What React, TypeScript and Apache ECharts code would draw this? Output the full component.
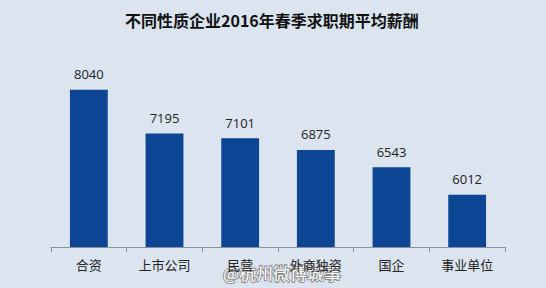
import React, { useEffect, useRef } from "react";
import * as echarts from "echarts";

const categories = ["合资", "上市公司", "民营", "外商独资", "国企", "事业单位"];
const salaries = [8040, 7195, 7101, 6875, 6543, 6012];
const titleText = "不同性质企业2016年春季求职期平均薪酬";
const watermark = "@杭州微博城事";

export default function App() {
  const ref = useRef<HTMLDivElement>(null);
  useEffect(() => {
    if (!ref.current) return;
    const chart = echarts.init(ref.current, null, { renderer: "svg" });
    chart.setOption({
      animation: false,
      backgroundColor: "#dbe4ef",
      title: {
        text: titleText,
        left: 120,
        top: 7,
        textStyle: {
          fontFamily: "Noto Sans CJK SC",
          fontSize: 16,
          fontWeight: "bold",
          color: "#111",
        },
      },
      grid: { left: 51, right: 41, top: 40, bottom: 41 },
      xAxis: {
        type: "category",
        data: categories,
        axisLine: { lineStyle: { color: "#8a8f98", width: 1 } },
        axisTick: { show: true, length: 5, lineStyle: { color: "#8a8f98" } },
        axisLabel: {
          color: "#222",
          fontSize: 13,
          fontFamily: "Noto Sans CJK SC",
          margin: 11,
        },
      },
      yAxis: {
        type: "value",
        min: 5000,
        max: 9000,
        show: false,
        splitLine: { show: false },
      },
      series: [
        {
          type: "bar",
          data: salaries,
          barWidth: "50%",
          itemStyle: { color: "#0b4594" },
          label: {
            show: true,
            position: "top",
            distance: 9,
            color: "#222",
            fontSize: 13,
            fontFamily: "Open Sans",
          },
        },
      ],
      graphic: [
        {
          type: "text",
          left: 222,
          top: 263,
          style: {
            text: watermark,
            fontSize: 17,
            fontFamily: "Noto Sans CJK SC",
            fill: "#ffffff",
            stroke: "#8c8c8c",
            lineWidth: 2,
          },
        },
      ],
    });
    return () => chart.dispose();
  }, []);
  return <div ref={ref} style={{ width: 546, height: 288, position: "absolute", left: 0, top: 0 }} />;
}
